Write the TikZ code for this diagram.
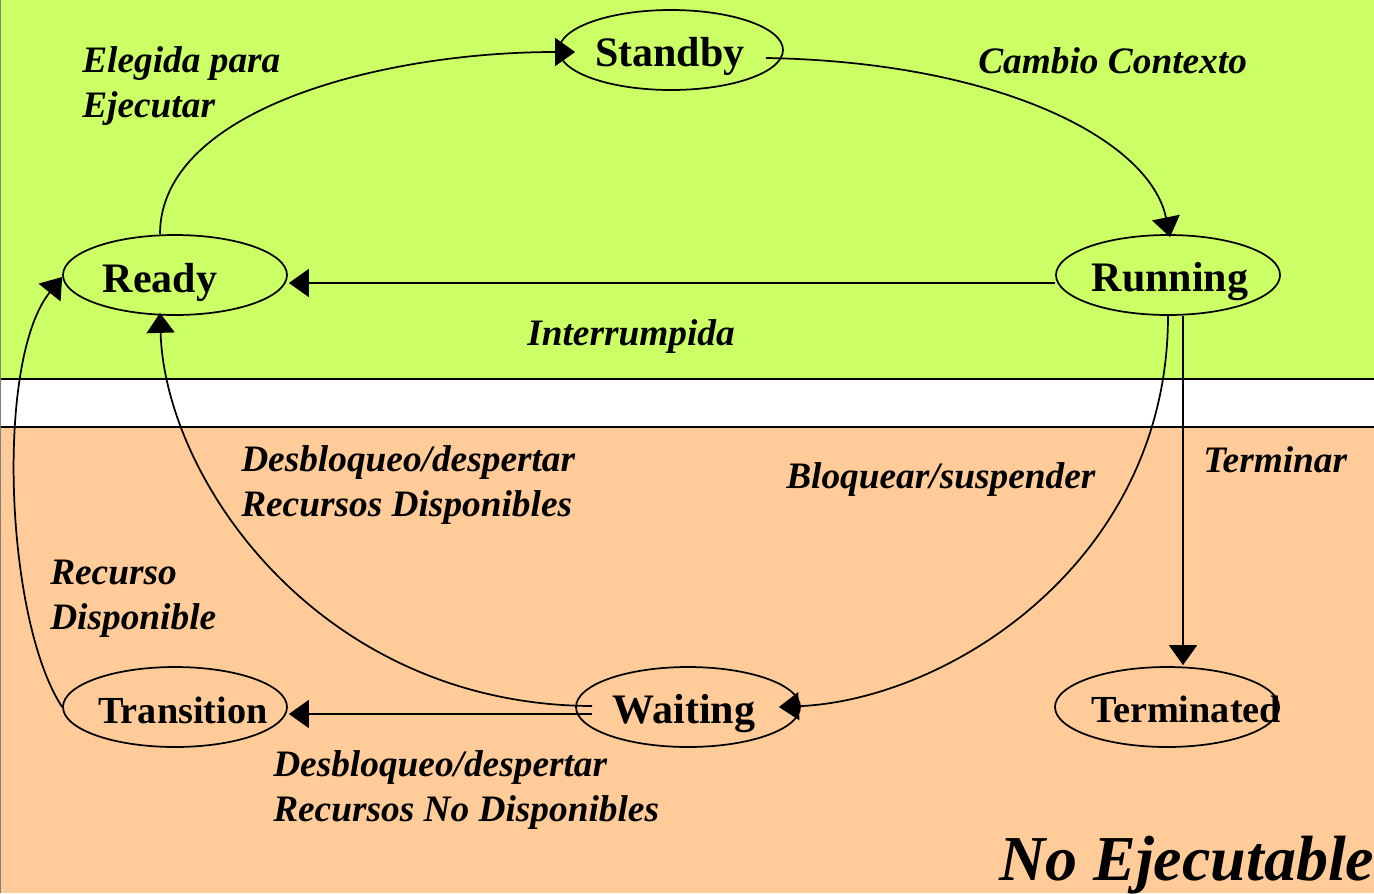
\documentclass[tikz,border=0pt]{standalone}
\usepackage{fontspec}
\setmainfont{Liberation Serif}
\usetikzlibrary{arrows.meta,shapes.geometric,calc}
\definecolor{topgreen}{RGB}{204,255,102}
\definecolor{botorange}{RGB}{255,204,153}
\begin{document}
\begin{tikzpicture}[x=0.75pt,y=-0.75pt,
  st/.style={ellipse,draw,line width=1.3pt,minimum width=168pt,minimum height=60pt,inner sep=0pt},
  stl/.style={font=\fontsize{31.5}{36}\selectfont\bfseries,inner sep=0pt,anchor=base},
  stls/.style={stl,font=\fontsize{28.7}{34}\selectfont\bfseries},
  lbl/.style={font=\fontsize{28}{33.75}\selectfont\bfseries\itshape,inner sep=0pt,anchor=base west,align=left},
  conn/.style={line width=1.3pt,-{Triangle[length=15pt,width=21pt]}}]
\useasboundingbox (0,0) rectangle (1374,893);
\clip (0,0) rectangle (1374,893);
% background bands
\fill[topgreen] (0,0) rectangle (1374,379);
\fill[white] (0,379) rectangle (1374,427);
\fill[botorange] (0,427) rectangle (1374,893);
\draw[line width=1pt] (0,379) -- (1374,379);
\draw[line width=1pt] (0,427) -- (1374,427);
\draw[gray,line width=1pt] (0.7,0) -- (0.7,893);
% states
\node[st] (standby) at (671,50) {};
\node[st] (ready) at (175,275) {};
\node[st] (running) at (1168,275) {};
\node[st] (transition) at (175,707) {};
\node[st] (waiting) at (688,707) {};
\node[st] (terminated) at (1167,707) {};
\node[stl] (standbyt) at (670,66) {Standby};
\node[stl] (readyt) at (160,292) {Ready};
\node[stl] (runningt) at (1170,291) {Running};
\node[stls] (transitiont) at (183,723) {Transition};
\node[stl] (waitingt) at (684,723) {Waiting};
\node[stls] (terminatedt) at (1186,722) {Terminated};
% connectors
\draw[conn] ($(ready.north)+(-15,0)$) .. controls (160,110) and (380,52) .. ($(standby.west)+(17,2)$);
\draw[conn] ($(standby.east)+(-18,8)$) .. controls (1000,62) and (1150,140) .. ($(running.north)+(2,3)$);
\draw[conn] ($(running.west)+(0,8)$) -- ($(ready.east)+(1,8)$);
\draw[conn] (running.south) .. controls (1168,560) and (950,700) .. ($(waiting.east)+(-22,0)$);
\draw[conn] ($(running.south)+(15,0)$) -- ($(terminated.north)+(16,-1)$);
\draw[conn] ($(waiting.west)+(17,-1)$) .. controls (320,705) and (165,480) .. ($(ready.south)+(-15,-3)$);
\draw[conn] ($(waiting.west)+(17,7)$) -- ($(transition.east)+(1,7)$);
\draw[conn] (transition.west) .. controls (5,620) and (-5,360) .. ($(ready.west)+(0,2)$);
% labels
\node[lbl] (l1) at (82,117) {Elegida para\\Ejecutar};
\node[lbl] (l2) at (978,73) {Cambio Contexto};
\node[lbl] (l3) at (527,345) {Interrumpida};
\node[lbl] (l4) at (241,516) {Desbloqueo/despertar\\Recursos Disponibles};
\node[lbl] (l5) at (786,488) {Bloquear/suspender};
\node[lbl] (l6) at (1203,472) {Terminar};
\node[lbl] (l7) at (50,629) {Recurso\\Disponible};
\node[lbl] (l8) at (273,821) {Desbloqueo/despertar\\Recursos No Disponibles};
\node[font=\fontsize{48}{56}\selectfont\bfseries\itshape,inner sep=0pt,anchor=base west] (l9) at (999,880) {No Ejecutable};
\end{tikzpicture}
\end{document}
